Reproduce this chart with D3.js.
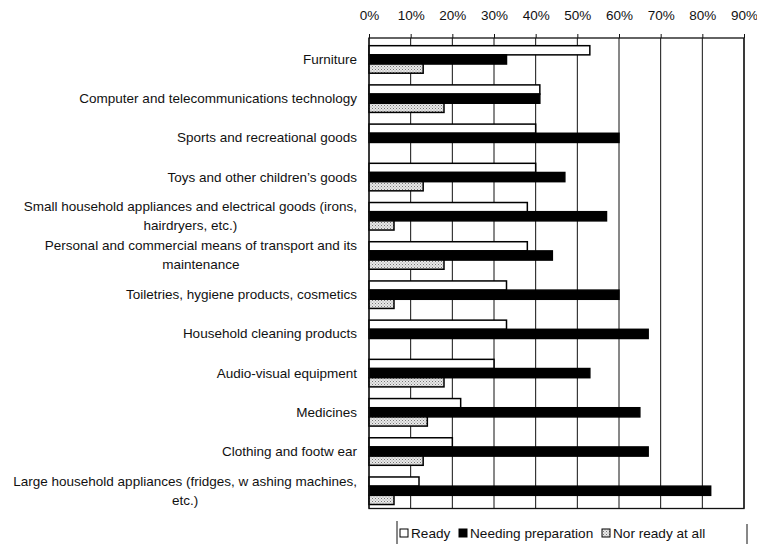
<!DOCTYPE html>
<html><head><meta charset="utf-8">
<script src="https://cdn.jsdelivr.net/npm/d3@7"></script>
<style>
body{margin:0;background:#fff}
svg text{font-family:"Liberation Sans",Arial,Helvetica,sans-serif;fill:#111}
</style>
</head><body>
<svg id="c" width="757" height="544"></svg>
<script>
const categories = [
  "Furniture",
  "Computer and telecommunications technology",
  "Sports and recreational goods",
  "Toys and other children’s goods",
  "Small household appliances and electrical goods (irons,|hairdryers, etc.)",
  "Personal and commercial means of transport and its|maintenance",
  "Toiletries, hygiene products, cosmetics",
  "Household cleaning products",
  "Audio-visual equipment",
  "Medicines",
  "Clothing and footw ear",
  "Large household appliances (fridges, w ashing machines,|etc.)"
];
const ready    = [53, 41, 40, 40, 38, 38, 33, 33, 30, 22, 20, 12];
const needing  = [33, 41, 60, 47, 57, 44, 60, 67, 53, 65, 67, 82];
const notReady = [13, 18, 0, 13, 6, 18, 6, 0, 18, 14, 13, 6];
const seriesNames = ["Ready", "Needing preparation", "Nor ready at all"];
const tickValues = [0, 10, 20, 30, 40, 50, 60, 70, 80, 90];

const svg = d3.select("#c");
const defs = svg.append("defs");
const pat = defs.append("pattern").attr("id","stip").attr("patternUnits","userSpaceOnUse")
  .attr("width",3).attr("height",3);
pat.append("rect").attr("width",3).attr("height",3).attr("fill","#e8e8e8");
pat.append("rect").attr("x",0).attr("y",0).attr("width",1).attr("height",1).attr("fill","#777");
pat.append("rect").attr("x",1.5).attr("y",1.5).attr("width",1).attr("height",1).attr("fill","#999");

const x = d3.scaleLinear().domain([0, 90]).range([369, 744]);
const y = d3.scaleBand().domain(d3.range(categories.length)).range([38, 508.5]);
const bw = y.bandwidth();
const yIn = d3.scaleBand().domain([0,1,2]).range([0.196*bw, 0.898*bw]);

const series = [ready, needing, notReady];
const fills = ["#fff", "#000", "url(#stip)"];
const fontStack = '"Liberation Sans",Arial,sans-serif';

// gridlines
svg.append("g").selectAll("line").data(tickValues).join("line")
  .attr("x1", d=>x(d)).attr("x2", d=>x(d)).attr("y1", 38).attr("y2", 508.5)
  .attr("stroke", "#111").attr("stroke-width", 1);

// top axis
const ax = svg.append("g").attr("transform","translate(0,38)")
  .call(d3.axisTop(x).tickValues(tickValues).tickFormat(d=>d+"%").tickSize(4).tickPadding(14));
ax.select(".domain").remove();
ax.selectAll(".tick line").attr("stroke","#111");
ax.selectAll("text").attr("font-size",13.5).attr("fill","#111").style("font-family",fontStack);

// bars
series.forEach((vals, s) => {
  const data = vals.map((v, i) => ({v, i})).filter(d => d.v > 0);
  svg.append("g").selectAll("rect").data(data).join("rect")
    .attr("x", x(0))
    .attr("y", d => y(d.i) + yIn(s))
    .attr("width", d => x(d.v) - x(0))
    .attr("height", yIn.bandwidth())
    .attr("fill", fills[s])
    .attr("stroke", "#000").attr("stroke-width", 1.5);
});

// frame
svg.append("rect").attr("x", x(0)).attr("y", 38).attr("width", x(90)-x(0)).attr("height", 470.5)
  .attr("fill","none").attr("stroke","#111").attr("stroke-width",1.3);

// category labels
const lh = 19, fs = 13.5;
categories.forEach((c, i) => {
  const lines = c.split("|");
  const yc = y(i) + 0.547*bw;
  const g = svg.append("g");
  const t0 = g.append("text").attr("font-size",fs).text(lines[0]);
  const w0 = t0.node().getComputedTextLength();
  t0.remove();
  const cx = 357 - w0/2;
  lines.forEach((ln, k) => {
    g.append("text").attr("font-size",fs).attr("text-anchor","middle")
      .attr("x", cx).attr("y", yc - (lines.length-1)*lh/2 + k*lh + 4.5).text(ln);
  });
});

// legend
const lg = svg.append("g");
lg.append("line").attr("x1",397).attr("x2",397).attr("y1",521).attr("y2",544).attr("stroke","#111");
lg.append("line").attr("x1",747).attr("x2",747).attr("y1",524).attr("y2",544).attr("stroke","#111");
const lx = [400, 459, 602];
seriesNames.forEach((n, s) => {
  lg.append("rect").attr("x", lx[s]).attr("y", 529).attr("width", 8).attr("height", 8)
    .attr("fill", fills[s]).attr("stroke","#000").attr("stroke-width",1);
  lg.append("text").attr("x", lx[s]+11).attr("y", 538).attr("font-size",13.6).text(n);
});
</script>
</body></html>
